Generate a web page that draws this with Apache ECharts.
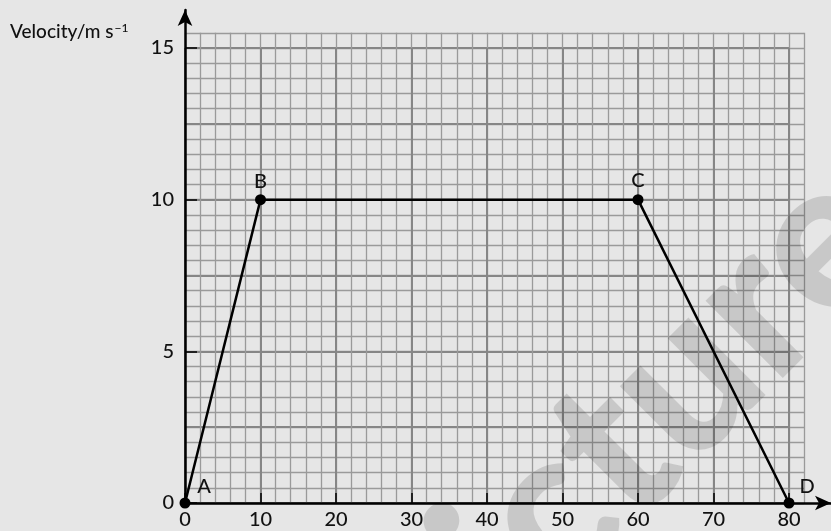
<!DOCTYPE html>
<html>
<head>
<meta charset="utf-8">
<script src="https://cdn.jsdelivr.net/npm/echarts@6/dist/echarts.min.js"></script>
<style>
html,body{margin:0;padding:0;background:#e6e6e6;}
#chart{width:831px;height:531px;}
</style>
</head>
<body>
<div id="chart"></div>
<script>
// Data
const timeValues = [0, 10, 60, 80];
const velocityValues = [0, 10, 10, 0];
const pointNames = ['A', 'B', 'C', 'D'];
const xTickLabels = [0, 10, 20, 30, 40, 50, 60, 70, 80];
const yTickLabels = [0, 5, 10, 15];
const yAxisTitle = 'Velocity/m s';
const yAxisTitleSup = '\u22121';
const watermarkText = 'Picture';

const FONT = 'Lato, "Open Sans", sans-serif';
const pxX = 604 / 80;   // pixels per second
const pxY = 455 / 15;   // pixels per m/s
const originX = 185, originY = 503;

const labelOffsets = { A: [19, -16], B: [0, -18], C: [0, -19], D: [18, -16] };

const seriesData = timeValues.map((t, i) => ({
  value: [t, velocityValues[i]],
  name: pointNames[i],
  label: {
    show: true,
    formatter: pointNames[i],
    position: 'inside',
    offset: labelOffsets[pointNames[i]],
    color: '#111',
    fontSize: 20,
    fontWeight: 500,
    fontFamily: FONT
  }
}));

const chart = echarts.init(document.getElementById('chart'), null, { renderer: 'canvas' });

const minorMaxX = 82, minorMaxY = 15.5;
const axisMaxX = (831 - originX) / pxX;
const axisMaxY = (originY - 10) / pxY;

chart.setOption({
  backgroundColor: '#e6e6e6',
  animation: false,
  grid: [
    { // minor grid
      left: originX, top: originY - minorMaxY * pxY,
      width: minorMaxX * pxX, height: minorMaxY * pxY
    },
    { // major grid + series
      left: originX, top: originY - 15 * pxY,
      width: 80 * pxX, height: 15 * pxY
    },
    { // axes with arrows
      left: originX, top: 10,
      width: 831 - originX, height: originY - 10
    }
  ],
  xAxis: [
    {
      gridIndex: 0, type: 'value', min: 0, max: minorMaxX, interval: 2,
      axisLine: { show: false }, axisTick: { show: false }, axisLabel: { show: false },
      splitLine: { show: true, lineStyle: { color: '#9a9a9a', width: 1.3 } }
    },
    {
      gridIndex: 1, type: 'value', min: 0, max: 80, interval: 10,
      axisLine: { show: false }, axisTick: { show: false }, axisLabel: { show: false },
      splitLine: { show: true, lineStyle: { color: '#868686', width: 2 } }
    },
    {
      gridIndex: 2, type: 'value', min: 0, max: axisMaxX,
      splitLine: { show: false },
      axisLine: {
        show: true, onZero: false,
        symbol: ['none', 'arrow'], symbolSize: [11, 16],
        lineStyle: { color: '#000', width: 2.5 }
      },
      axisTick: {
        show: true, inside: true, length: 10, customValues: xTickLabels,
        lineStyle: { color: '#000', width: 1.5 }
      },
      axisLabel: {
        show: true, customValues: xTickLabels, margin: 7,
        color: '#111', fontSize: 20, fontWeight: 500, fontFamily: FONT
      }
    }
  ],
  yAxis: [
    {
      gridIndex: 0, type: 'value', min: 0, max: minorMaxY, interval: 0.5,
      axisLine: { show: false }, axisTick: { show: false }, axisLabel: { show: false },
      splitLine: { show: true, lineStyle: { color: '#9a9a9a', width: 1.3 } }
    },
    {
      gridIndex: 1, type: 'value', min: 0, max: 15, interval: 2.5,
      axisLine: { show: false }, axisTick: { show: false }, axisLabel: { show: false },
      splitLine: { show: true, lineStyle: { color: '#868686', width: 2 } }
    },
    {
      gridIndex: 2, type: 'value', min: 0, max: axisMaxY,
      splitLine: { show: false },
      axisLine: {
        show: true, onZero: false,
        symbol: ['none', 'arrow'], symbolSize: [11, 16],
        lineStyle: { color: '#000', width: 2.5 }
      },
      axisTick: {
        show: true, inside: true, length: 12, customValues: yTickLabels,
        lineStyle: { color: '#000', width: 1.5 }
      },
      axisLabel: {
        show: true, customValues: yTickLabels, margin: 11,
        color: '#111', fontSize: 20, fontWeight: 500, fontFamily: FONT
      }
    }
  ],
  graphic: [
    {
      type: 'text', left: 10, top: 22,
      style: {
        text: '{a|' + yAxisTitle + '}{b|' + yAxisTitleSup + '}',
        rich: {
          a: { fontSize: 19, fontWeight: 500, fontFamily: FONT, fill: '#111' },
          b: { fontSize: 12, fontWeight: 500, fontFamily: FONT, fill: '#111', verticalAlign: 'top', padding: [0, 0, 0, 1] }
        }
      }
    },
    {
      type: 'text', x: 620, y: 444, rotation: Math.PI / 4, z: 100,
      silent: true,
      style: {
        text: watermarkText, fontSize: 212, fontWeight: 900, fontFamily: FONT,
        fill: 'rgba(0,0,0,0.13)', align: 'center', verticalAlign: 'middle'
      }
    }
  ],
  series: [
    {
      type: 'line', xAxisIndex: 1, yAxisIndex: 1,
      data: seriesData, clip: false,
      symbol: 'circle', symbolSize: 11,
      itemStyle: { color: '#000' },
      lineStyle: { color: '#000', width: 2.5 },
      z: 5
    }
  ]
});
</script>
</body>
</html>
